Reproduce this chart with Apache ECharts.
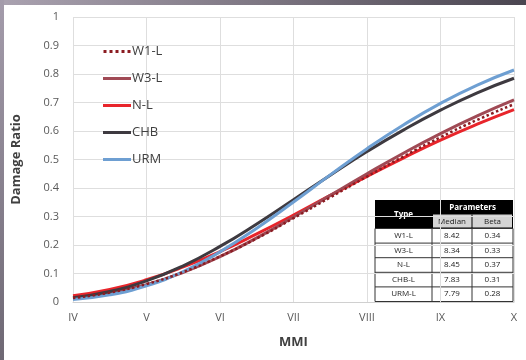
<!DOCTYPE html>
<html><head><meta charset="utf-8">
<script src="https://cdn.jsdelivr.net/npm/echarts@6/dist/echarts.min.js"></script>
<style>html,body{margin:0;padding:0;background:#fff}#c{width:526px;height:360px}</style>
</head><body><div id="c"></div>
<script>
var mmiTicks = ['IV','V','VI','VII','VIII','IX','X'];
var mmi = [4,4.5,5,5.5,6,6.5,7,7.5,8,8.5,9,9.5,10];
var w1l = [0.014,0.033,0.063,0.105,0.160,0.223,0.294,0.367,0.440,0.511,0.578,0.639,0.694];
var w3l = [0.013,0.031,0.061,0.104,0.159,0.225,0.298,0.374,0.450,0.523,0.591,0.653,0.709];
var nl  = [0.022,0.044,0.078,0.123,0.177,0.239,0.305,0.374,0.441,0.506,0.568,0.624,0.675];
var chb = [0.015,0.037,0.074,0.127,0.195,0.274,0.359,0.445,0.528,0.604,0.673,0.734,0.785];
var urm = [0.009,0.025,0.057,0.107,0.176,0.259,0.351,0.446,0.538,0.622,0.697,0.761,0.814];
var tableTypes = ['W1-L','W3-L','N-L','CHB-L','URM-L'];
var tableMedian = ['8.42','8.34','8.45','7.83','7.79'];
var tableBeta = ['0.34','0.33','0.37','0.31','0.28'];

function pairs(ys){ return mmi.map(function(x,i){ return [x, ys[i]]; }); }

var font = 'Open Sans';
var graphics = [
  {type:'rect', shape:{x:0,y:0,width:526,height:5}, silent:true,
   style:{fill:new echarts.graphic.LinearGradient(0,0,1,0,[{offset:0,color:'#aaa2b0'},{offset:0.5,color:'#7d7682'},{offset:1,color:'#4a4550'}])}},
  {type:'rect', shape:{x:0,y:0,width:4,height:360}, silent:true,
   style:{fill:new echarts.graphic.LinearGradient(0,0,0,1,[{offset:0,color:'#a49cab'},{offset:1,color:'#6e6874'}])}}
];
// table
var tx0=375, tx1=432, tx2=472, tx3=513, ty0=200, ty1=214.5, ty2=228.5, rowH=14.6;
graphics.push({type:'rect', shape:{x:tx0,y:ty0,width:tx3-tx0,height:ty2-ty0}, style:{fill:'#000'}, silent:true});
graphics.push({type:'rect', shape:{x:tx1+1,y:ty1,width:tx3-tx1-2,height:ty2-ty1-1}, style:{fill:'#d4d4d4'}, silent:true});
graphics.push({type:'line', shape:{x1:tx2,y1:ty1,x2:tx2,y2:ty2}, style:{stroke:'#000',lineWidth:1}, silent:true});
graphics.push({type:'text', x:(tx0+tx1)/2, y:(ty0+ty2)/2, style:{text:'Type',fill:'#fff',font:'bold 8px '+font,align:'center',verticalAlign:'middle'}, silent:true});
graphics.push({type:'text', x:(tx1+tx3)/2, y:(ty0+ty1)/2, style:{text:'Parameters',fill:'#fff',font:'bold 8px '+font,align:'center',verticalAlign:'middle'}, silent:true});
graphics.push({type:'text', x:(tx1+tx2)/2, y:(ty1+ty2)/2, style:{text:'Median',fill:'#222',font:'8px '+font,align:'center',verticalAlign:'middle'}, silent:true});
graphics.push({type:'text', x:(tx2+tx3)/2, y:(ty1+ty2)/2, style:{text:'Beta',fill:'#222',font:'8px '+font,align:'center',verticalAlign:'middle'}, silent:true});
var tyEnd = ty2 + rowH*tableTypes.length;
graphics.push({type:'rect', shape:{x:tx0,y:ty2,width:tx3-tx0,height:tyEnd-ty2}, style:{fill:'#fff',stroke:'#333',lineWidth:1}, silent:true});
[tx1,tx2].forEach(function(xx){ graphics.push({type:'line', shape:{x1:xx,y1:ty2,x2:xx,y2:tyEnd}, style:{stroke:'#333',lineWidth:1}, silent:true}); });
tableTypes.forEach(function(t,i){
  var yTop = ty2 + rowH*i, yc = yTop + rowH/2;
  if(i>0) graphics.push({type:'line', shape:{x1:tx0,y1:yTop,x2:tx3,y2:yTop}, style:{stroke:'#333',lineWidth:1}, silent:true});
  graphics.push({type:'text', x:(tx0+tx1)/2, y:yc, style:{text:t,fill:'#222',font:'8px '+font,align:'center',verticalAlign:'middle'}, silent:true});
  graphics.push({type:'text', x:(tx1+tx2)/2, y:yc, style:{text:tableMedian[i],fill:'#222',font:'8px '+font,align:'center',verticalAlign:'middle'}, silent:true});
  graphics.push({type:'text', x:(tx2+tx3)/2, y:yc, style:{text:tableBeta[i],fill:'#222',font:'8px '+font,align:'center',verticalAlign:'middle'}, silent:true});
});

function ser(name, data, color, type, width, z){
  return {name:name, type:'line', data:pairs(data), smooth:true, symbol:'none', z:z,
    lineStyle:{color:color, width:width, type:type}, itemStyle:{color:color}};
}
var dotIcon = 'path://M0,0h3v3h-3zM6,0h3v3h-3zM12,0h3v3h-3zM18,0h3v3h-3zM24,0h3v3h-3z';

var chart = echarts.init(document.getElementById('c'), null, {renderer:'canvas'});
chart.setOption({
  backgroundColor:'#fff',
  animation:false,
  textStyle:{fontFamily:font},
  grid:{left:73, right:12, top:17, bottom:58},
  legend:{
    orient:'vertical', left:98, top:39, itemWidth:28, itemHeight:3, itemGap:12,
    textStyle:{fontSize:13, color:'#404040', fontFamily:font, lineHeight:15, padding:[0,0,0,-4]},
    data:[
      {name:'W1-L', icon:dotIcon},
      {name:'W3-L', icon:'rect'},
      {name:'N-L', icon:'rect'},
      {name:'CHB', icon:'rect'},
      {name:'URM', icon:'rect'}
    ]
  },
  xAxis:{
    type:'value', min:4, max:10, interval:1,
    name:'MMI', nameLocation:'middle', nameGap:34,
    nameTextStyle:{fontSize:13, fontWeight:'bold', color:'#404040', fontFamily:font},
    axisLine:{show:true, lineStyle:{color:'#d0d0d0'}}, axisTick:{show:false},
    axisLabel:{color:'#595959', fontSize:11, margin:10, formatter:function(v){ return mmiTicks[Math.round(v-4)]; }},
    splitLine:{show:true, lineStyle:{color:'#dedede'}}
  },
  yAxis:{
    type:'value', min:0, max:1, interval:0.1,
    name:'Damage Ratio', nameLocation:'middle', nameGap:50, nameRotate:90,
    nameTextStyle:{fontSize:13, fontWeight:'bold', color:'#404040', fontFamily:font},
    axisLine:{show:false}, axisTick:{show:false},
    axisLabel:{color:'#595959', fontSize:11, margin:14, formatter:function(v){ return String(Math.round(v*10)/10); }},
    splitLine:{show:true, lineStyle:{color:'#dedede'}}
  },
  graphic: graphics,
  series:[
    ser('N-L', nl, '#e8252b', 'solid', 3, 2),
    ser('W3-L', w3l, '#a04a55', 'solid', 3, 3),
    ser('CHB', chb, '#3e3a40', 'solid', 3, 3),
    ser('URM', urm, '#6e9fd2', 'solid', 3, 4),
    ser('W1-L', w1l, '#8b1c22', 'dotted', 2.5, 5)
  ]
});
</script></body></html>
